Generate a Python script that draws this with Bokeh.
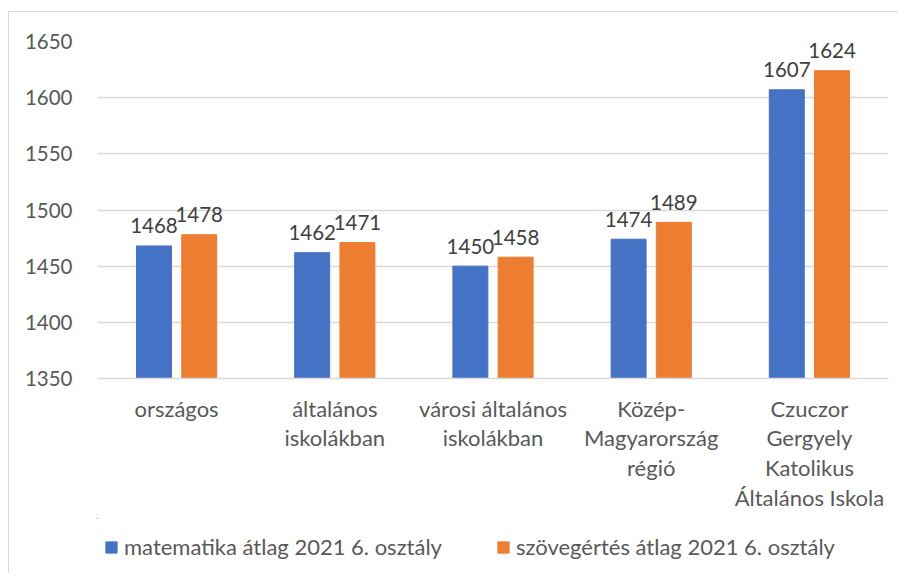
from bokeh.plotting import figure
from bokeh.layouts import column
from bokeh.models import ColumnDataSource, Legend, LegendItem, Range1d, FixedTicker
from bokeh.transform import dodge
from bokeh.core.properties import value
from bokeh.embed import file_html
from bokeh.resources import INLINE

categories = [
    "országos",
    "általános\niskolákban",
    "városi általános\niskolákban",
    "Közép-\nMagyarország\nrégió",
    "Czuczor\nGergyely\nKatolikus\nÁltalános Iskola",
]
matek = [1468, 1462, 1450, 1474, 1607]
szoveg = [1478, 1471, 1458, 1489, 1624]
series_names = ["matematika átlag 2021 6. osztály", "szövegértés átlag 2021 6. osztály"]
y_ticks = [1350, 1400, 1450, 1500, 1550, 1600, 1650]
y_min, y_max = 1350, 1650

FONT = "Lato"
BLUE = "#4472C4"
ORANGE = "#ED7D31"
GRID = "#D9D9D9"
TXT = "#595959"

src = ColumnDataSource(dict(
    cat=categories,
    matek=matek,
    szoveg=szoveg,
    matek_lbl=[str(v) for v in matek],
    szoveg_lbl=[str(v) for v in szoveg],
))

p = figure(
    x_range=categories,
    y_range=Range1d(y_min, y_max),
    frame_width=791, frame_height=337,
    output_backend="svg", toolbar_location=None,
    min_border_left=88, min_border_right=10,
    min_border_top=29, min_border_bottom=140,
)
p.outline_line_color = None
p.background_fill_color = "white"
p.border_fill_color = "white"

off = 0.143
bw = 0.221
r1 = p.vbar(x=dodge("cat", -off, range=p.x_range), top="matek", bottom=y_min,
            width=bw, source=src, fill_color=BLUE, line_color=BLUE)
r2 = p.vbar(x=dodge("cat", off, range=p.x_range), top="szoveg", bottom=y_min,
            width=bw, source=src, fill_color=ORANGE, line_color=ORANGE)

for col, lbl, d in (("matek", "matek_lbl", -off), ("szoveg", "szoveg_lbl", off)):
    p.text(x=dodge("cat", d, range=p.x_range), y=col, text=lbl, source=src,
           text_align="center", text_baseline="alphabetic", y_offset=-20,
           text_font=value(FONT), text_font_size="20.5px", text_color="#404040")

p.xgrid.grid_line_color = None
p.ygrid.grid_line_color = GRID
p.ygrid.grid_line_width = 1.3
p.yaxis.ticker = FixedTicker(ticks=y_ticks)
p.yaxis.axis_line_color = None
p.yaxis.major_tick_line_color = None
p.yaxis.minor_tick_line_color = None
p.yaxis.major_label_standoff = 19
p.yaxis.major_label_text_font = FONT
p.yaxis.major_label_text_font_size = "20.5px"
p.yaxis.major_label_text_color = TXT

p.xaxis.axis_line_color = GRID
p.xaxis.axis_line_width = 1.3
p.xaxis.major_tick_line_color = None
p.xaxis.minor_tick_line_color = None
p.xaxis.major_label_standoff = 10
p.xaxis.major_label_text_font = FONT
p.xaxis.major_label_text_font_size = "22px"
p.xaxis.major_label_text_color = TXT
p.xaxis.major_label_text_line_height = 1.1

# legend strip below the chart (its frame is aligned with the chart frame);
# the series are re-plotted there far outside the visible ranges only to feed the legend keys
pl = figure(
    x_range=Range1d(10, 11), y_range=Range1d(0, 1),
    width=889, height=55,
    output_backend="svg", toolbar_location=None,
    min_border=0,
)
pl.axis.visible = False
pl.grid.visible = False
pl.outline_line_color = None
pl.border_fill_color = "white"
lg1 = pl.vbar(x=0.5, top="matek", bottom=y_min, width=0.1, source=src,
              fill_color=BLUE, line_color=BLUE)
lg2 = pl.vbar(x=0.5, top="szoveg", bottom=y_min, width=0.1, source=src,
              fill_color=ORANGE, line_color=ORANGE)

legend = Legend(
    items=[LegendItem(label=series_names[0], renderers=[lg1]),
           LegendItem(label=series_names[1], renderers=[lg2])],
    orientation="horizontal", location=(7, 13),
    glyph_width=14, glyph_height=14, label_standoff=6, spacing=54,
    padding=0, margin=0, border_line_color=None, background_fill_alpha=0,
    label_text_font=FONT, label_text_font_size="22px", label_text_color=TXT,
    label_height=20,
)
pl.add_layout(legend, "center")

layout = column(p, pl, spacing=0)
layout.styles = {
    "border-left": "1px solid #D9D9D9",
    "border-top": "1px solid #D9D9D9",
    "margin-top": "11px",
    "margin-left": "8px",
}

open("out.html", "w").write(file_html(layout, INLINE))
